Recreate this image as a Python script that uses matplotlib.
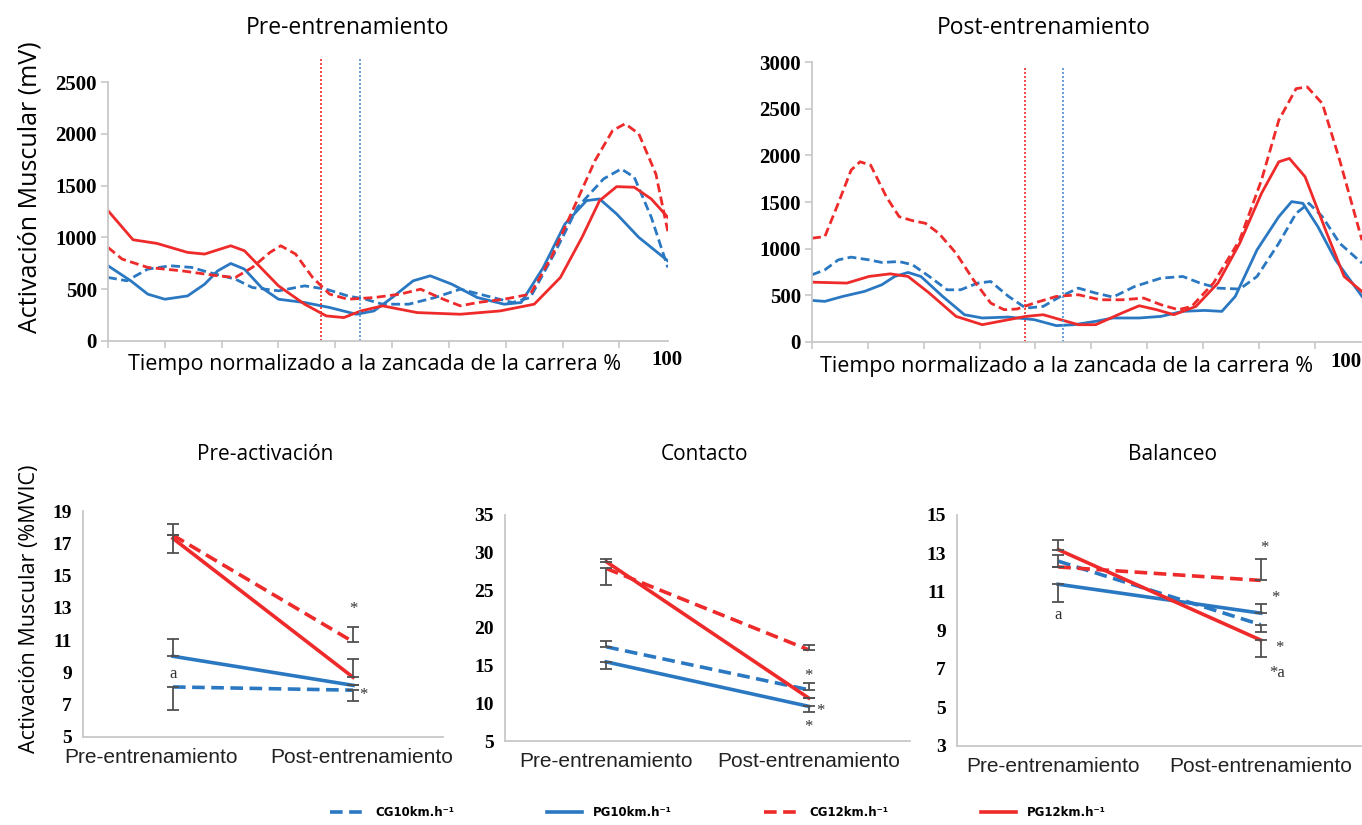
import numpy as np
import matplotlib
matplotlib.use("Agg")
from matplotlib import pyplot as plt
from matplotlib import transforms

# colours
blue = "#2b78c2"
red = "#ee2a2a"

# ---------- top: EMG curves (x = % of stride, y = mV) ----------
# Pre-entrenamiento
pre_cg10_x = [0, 3.3, 7, 11, 14.7, 17.8, 22.4, 25.4, 30, 34.6, 38.4, 42.2, 45.3, 48.3, 52.9, 57.5, 62, 66.6, 71.2, 74.3, 78.8, 82.6, 87.2, 90.3, 92.6, 95.6, 98.5]
pre_cg10_y = [613, 581, 694, 726, 710, 661, 597, 516, 484, 532, 500, 435, 403, 355, 355, 419, 500, 435, 371, 419, 871, 1290, 1565, 1661, 1581, 1194, 710]
pre_pg10_x = [0, 4, 7, 10, 14, 17, 19.3, 21.6, 24, 27, 30, 34.6, 39, 43.7, 46.8, 50, 53.7, 56.7, 60.5, 65, 69.7, 72.7, 76.6, 80.4, 84.2, 86.5, 89.5, 93.4, 98.5]
pre_pg10_y = [726, 581, 452, 403, 435, 548, 677, 748, 694, 516, 403, 371, 323, 258, 290, 419, 581, 629, 548, 419, 355, 371, 710, 1129, 1355, 1371, 1226, 1000, 774]
pre_cg12_x = [0, 2.5, 7, 13, 19.3, 22.4, 25.4, 28.5, 30.4, 33, 36, 39, 42.2, 46.8, 51.4, 55, 59, 62, 65, 69.7, 74.3, 78, 82, 85.7, 88.8, 91, 93.4, 96.4, 98, 98.5]
pre_cg12_y = [903, 790, 710, 677, 629, 613, 710, 855, 919, 839, 613, 452, 403, 419, 452, 500, 403, 339, 371, 403, 452, 806, 1290, 1742, 2032, 2097, 2000, 1613, 1190, 1060]
pre_pg12_x = [0, 4.4, 8.6, 14, 17, 21.6, 24, 30, 34.6, 38.4, 41.5, 44.5, 48.3, 54.4, 62, 69, 75, 79.6, 83.4, 86.5, 89.5, 92.6, 95.6, 98.5]
pre_pg12_y = [1258, 977, 942, 855, 839, 919, 871, 532, 355, 242, 226, 290, 339, 274, 258, 290, 355, 613, 1000, 1355, 1490, 1484, 1371, 1194]

# Post-entrenamiento
post_cg10_x = [0, 2.3, 4.7, 7, 10.2, 12.5, 15.6, 18, 21, 24.2, 26.6, 29.7, 32, 35.2, 38.3, 41.4, 44.5, 47.7, 50.8, 53.9, 57.8, 62.5, 66.4, 69.5, 72.7, 76.6, 79.7, 83.6, 86.7, 89, 91.4, 94.5, 98.5]
post_cg10_y = [720, 773, 880, 909, 880, 852, 862, 827, 702, 559, 559, 631, 648, 488, 363, 381, 488, 577, 524, 481, 595, 684, 702, 631, 577, 567, 702, 1058, 1379, 1486, 1343, 1058, 845]
post_pg10_x = [0, 2.3, 5.5, 9.4, 12.5, 14.8, 17.2, 19.5, 23.4, 27.3, 30.5, 35.2, 39.8, 43.75, 46.9, 50.8, 53.9, 58.6, 62.5, 66.4, 70.3, 73.4, 75.8, 79.7, 83.6, 85.9, 87.9, 90.6, 93.75, 98.5]
post_pg10_y = [445, 435, 488, 542, 613, 702, 745, 702, 488, 292, 257, 267, 239, 175, 185, 221, 257, 257, 274, 328, 338, 328, 488, 987, 1343, 1504, 1486, 1236, 880, 488]
post_cg12_x = [0, 2.3, 4.7, 7, 8.6, 10.5, 13.3, 15.6, 18, 20.3, 22.7, 25.8, 28.9, 32, 34.4, 36.7, 39.8, 43.75, 47.7, 51.6, 55.5, 59.4, 62.5, 65.6, 68, 71.9, 76.6, 80.5, 83.6, 86.7, 88.7, 91.4, 94.5, 98.5]
post_cg12_y = [1112, 1130, 1486, 1842, 1931, 1895, 1557, 1343, 1300, 1272, 1165, 951, 666, 417, 346, 353, 417, 488, 506, 452, 452, 470, 399, 346, 381, 631, 1094, 1735, 2377, 2715, 2733, 2555, 1949, 1090]
post_pg12_x = [0, 6.25, 10.2, 14, 17.2, 21, 25.8, 30.5, 35.2, 38.3, 41.4, 44.5, 47.7, 50.8, 55.5, 58.6, 61.7, 64.8, 68.75, 72.7, 76.6, 80.5, 83.6, 85.5, 88.3, 92.2, 95.3, 98.5]
post_pg12_y = [641, 631, 702, 730, 702, 524, 274, 185, 239, 274, 292, 239, 185, 185, 310, 388, 346, 292, 381, 631, 1058, 1593, 1931, 1967, 1771, 1165, 702, 540]

# phase markers (vertical dotted lines, % of stride)
pre_marks = [37.5, 44.4]
post_marks = [38.2, 44.9]

# ---------- bottom: %MVIC means pre / post ----------
moments = ["Pre-entrenamiento", "Post-entrenamiento"]
phases = ["Pre-activación", "Contacto", "Balanceo"]

vals = {
    "Pre-activación": {"CG10": [8.1, 7.9], "PG10": [10.0, 8.2], "CG12": [17.5, 10.9], "PG12": [17.3, 8.7]},
    "Contacto": {"CG10": [17.5, 11.8], "PG10": [15.5, 9.6], "CG12": [27.9, 17.1], "PG12": [28.8, 10.7]},
    "Balanceo": {"CG10": [12.6, 9.3], "PG10": [11.4, 9.9], "CG12": [12.3, 11.6], "PG12": [13.2, 8.5]},
}
# error bars: (lower, upper) for pre and post
errs = {
    "Pre-activación": {"CG10": ([1.4, 0.7], [0, 0]), "PG10": ([0, 0], [1.1, 0]), "CG12": ([0, 0], [0, 0.9]), "PG12": ([0.9, 0], [0.9, 1.1])},
    "Contacto": {"CG10": ([0, 0], [0.8, 0.9]), "PG10": ([0.9, 0.8], [0, 0]), "CG12": ([2.2, 0], [0, 0.7]), "PG12": ([0, 0], [0.3, 0])},
    "Balanceo": {"CG10": ([0.3, 0.4], [0.3, 0]), "PG10": ([0.9, 0], [0, 0.5]), "CG12": ([0, 0], [0, 1.1]), "PG12": ([0, 0.9], [0.5, 0])},
}
ylims = {"Pre-activación": (5, 19, 2), "Contacto": (5, 35, 5), "Balanceo": (3, 15, 2)}
# significance marks: (category index, value, text)
marks = {
    "Pre-activación": [(0, 8.9, "a"), (1, 12.9, "*"), (1.06, 7.6, "*")],
    "Contacto": [(1, 13.6, "*"), (1.06, 9.0, "*"), (1, 6.9, "*")],
    "Balanceo": [(0, 9.8, "a"), (1.02, 13.3, "*"), (1.07, 10.7, "*"), (1.09, 8.1, "*"), (1.08, 6.8, "*a")],
}

series = ["CG10", "PG10", "CG12", "PG12"]
labels = ["CG10km.h\u207b\u00b9", "PG10km.h\u207b\u00b9", "CG12km.h\u207b\u00b9", "PG12km.h\u207b\u00b9"]
colors = {"CG10": blue, "PG10": blue, "CG12": red, "PG12": red}
dashed = {"CG10": True, "PG10": False, "CG12": True, "PG12": False}

sans = "Open Sans"
tickfont = dict(family="Liberation Serif", weight="bold", size=15)

fig = plt.figure(figsize=(13.62, 8.25), dpi=100)


def style_axes(ax):
    for s in ["top", "right"]:
        ax.spines[s].set_visible(False)
    for s in ["left", "bottom"]:
        ax.spines[s].set_color("#c8c8c8")
        ax.spines[s].set_linewidth(1.3)


def top_panel(rect, curves, ymax, ystep, marks_x, mark_top, xlab_x, hundred_x, hundred_ha):
    ax = fig.add_axes(rect)
    style_axes(ax)
    for key, x, y in curves:
        ls = (0, (3.2, 1.6)) if dashed[key] else "-"
        ax.plot(x, y, color=colors[key], lw=2.0, ls=ls)
    ax.axvline(marks_x[0], ymin=0, ymax=mark_top, color=red, ls=(0, (1.2, 1.2)), lw=1.2, clip_on=False)
    ax.axvline(marks_x[1], ymin=0, ymax=mark_top, color="#4f8fd6", ls=(0, (1.2, 1.2)), lw=1.2, clip_on=False)
    ax.set_xlim(0, 98.5)
    ax.set_ylim(0, ymax)
    ax.set_xticks(np.arange(0, 91, 10))
    ax.set_xticklabels([])
    ax.set_yticks(np.arange(0, ymax + 1, ystep))
    ax.set_yticklabels([str(v) for v in np.arange(0, ymax + 1, ystep)], fontdict=tickfont)
    ax.tick_params(axis="both", color="#c8c8c8", length=5, width=1.2)
    ax.tick_params(axis="y", pad=3)
    ax.text(hundred_x, -0.035, "100", transform=ax.transAxes, ha=hundred_ha, va="top", **tickfont)
    ax.text(xlab_x, -0.05, "Tiempo normalizado a la zancada de la carrera %", transform=ax.transAxes,
            ha="center", va="top", family=sans, size=15.5)
    return ax


top_panel([0.0793, 0.5867, 0.411, 0.3139],
          [("CG10", pre_cg10_x, pre_cg10_y), ("PG10", pre_pg10_x, pre_pg10_y),
           ("CG12", pre_cg12_x, pre_cg12_y), ("PG12", pre_pg12_x, pre_pg12_y)],
          2500, 500, pre_marks, 1.097, 0.477, 0.97, "left")
top_panel([0.5962, 0.5855, 0.4038, 0.3393],
          [("CG10", post_cg10_x, post_cg10_y), ("PG10", post_pg10_x, post_pg10_y),
           ("CG12", post_cg12_x, post_cg12_y), ("PG12", post_pg12_x, post_pg12_y)],
          3000, 500, post_marks, 0.98, 0.4636, 0.999, "right")

fig.text(0.2555, 0.966, "Pre-entrenamiento", ha="center", va="center", family=sans, size=16.5)
fig.text(0.766, 0.966, "Post-entrenamiento", ha="center", va="center", family=sans, size=16.5)
fig.text(0.022, 0.773, "Activación Muscular (mV)", rotation=90, ha="center", va="center", family=sans, size=18)

# ---------- bottom panels ----------
rects = [[0.0609, 0.1067, 0.2644, 0.2739], [0.3708, 0.1018, 0.2973, 0.2740], [0.7026, 0.0958, 0.2974, 0.2800]]
title_x = [0.1946, 0.5176, 0.8612]
label_shift = [(-22, 9), (0, 0), (-5, 0)]
pos = np.arange(len(moments))
handles = []
for rect, ph, tx, shift in zip(rects, phases, title_x, label_shift):
    ax = fig.add_axes(rect)
    style_axes(ax)
    for key in series:
        ls = (0, (3.5, 1.8)) if dashed[key] else "-"
        ln, = ax.plot(pos, vals[ph][key], color=colors[key], lw=2.6, ls=ls)
        lo, hi = errs[ph][key]
        ax.errorbar(pos, vals[ph][key], yerr=[lo, hi], fmt="none", ecolor="#505050",
                    elinewidth=1.3, capsize=4, capthick=1.3)
        if ph == phases[0]:
            handles.append(ln)
    for cx, cy, t in marks[ph]:
        ax.text(cx, cy, t, ha="center", va="center", family="Liberation Serif", size=12, color="#333333")
    lo, hi, st = ylims[ph]
    ax.set_ylim(lo, hi)
    ax.set_yticks(np.arange(lo, hi + 0.1, st))
    ax.set_yticklabels([str(v) for v in np.arange(lo, hi + 1, st)], fontdict=dict(family="Liberation Serif", weight="bold", size=14))
    ax.set_xlim(-0.5, 1.5)
    ax.set_xticks(pos)
    ax.set_xticklabels(moments, family="Liberation Sans", size=15, color="#222222")
    ax.tick_params(axis="both", length=0, pad=8)
    for lab, dx in zip(ax.get_xticklabels(), shift):
        lab.set_transform(lab.get_transform() + transforms.ScaledTranslation(dx / 100, 0, fig.dpi_scale_trans))
    fig.text(tx, 0.4485, ph, ha="center", va="center", family=sans, size=15)

fig.text(0.022, 0.262, "Activación Muscular (%MVIC)", rotation=90, ha="center", va="center", family=sans, size=15.5)

fig.legend(handles, labels, loc="center", bbox_to_anchor=(0.527, 0.015), ncol=4, frameon=False,
           prop=dict(family="DejaVu Sans", weight="bold", size=8.5), handlelength=3.0, columnspacing=7.8, handletextpad=0.9)

fig.savefig("out.png", dpi=100)
